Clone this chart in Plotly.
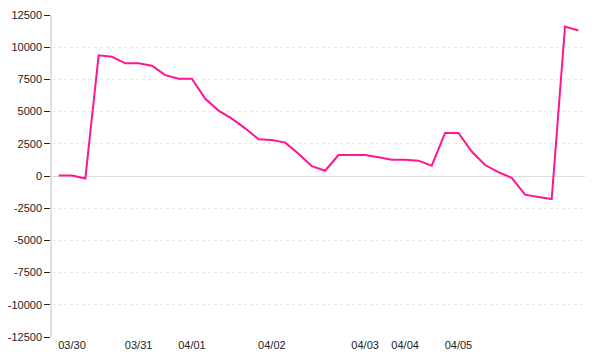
import plotly.graph_objects as go

# ---- data ----
day_of_point = (["03/29"] + ["03/30"] * 5 + ["03/31"] * 4 + ["04/01"] * 6 +
                ["04/02"] * 7 + ["04/03"] * 3 + ["04/04"] * 4 + ["04/05"] * 10)
values = [30, 30, -200, 9370, 9260, 8750, 8750, 8560, 7830, 7560,
          7560, 6000, 5080, 4450, 3700, 2850, 2800, 2590, 1720, 760,
          410, 1630, 1630, 1630, 1450, 1270, 1270, 1190, 800, 3340,
          3340, 1900, 850, 300, -150, -1450, -1630, -1790, 11600, 11300]
shown_days = ["03/30", "03/31", "04/01", "04/02", "04/03", "04/04", "04/05"]
y_ticks = [-12500, -10000, -7500, -5000, -2500, 0, 2500, 5000, 7500, 10000, 12500]

# unique category per point
categories = []
counts = {}
for d in day_of_point:
    counts[d] = counts.get(d, 0) + 1
    categories.append(f"{d} #{counts[d]}")

tick_vals = [f"{d} #1" for d in shown_days]

font = dict(family="Liberation Sans, Arial, sans-serif", size=11, color="#222222")

fig = go.Figure()
fig.add_trace(go.Scatter(
    x=categories, y=values, mode="lines",
    line=dict(color="#ff1493", width=2),
    hoverinfo="skip", showlegend=False,
))

fig.update_layout(
    width=600, height=360,
    margin=dict(l=52, r=15, t=15, b=23),
    paper_bgcolor="white", plot_bgcolor="white",
    font=font,
    xaxis=dict(
        type="category",
        categoryorder="array", categoryarray=categories,
        range=[-0.5, len(categories) - 0.5],
        tickmode="array", tickvals=tick_vals, ticktext=shown_days,
        showgrid=False, showline=False, zeroline=False,
        ticks="", tickfont=font, automargin=False,
    ),
    yaxis=dict(
        range=[-12500, 12500],
        tickmode="array", tickvals=y_ticks,
        ticktext=[str(v) for v in y_ticks],
        showgrid=True, gridcolor="#e8e8e8", griddash="3px,3px", gridwidth=1,
        zeroline=True, zerolinecolor="#dddddd", zerolinewidth=1,
        showline=True, linecolor="#dddddd", linewidth=1.5,
        ticks="outside", ticklen=6, tickcolor="#222222", tickwidth=1,
        tickfont=font, automargin=False,
    ),
)

fig.write_html("out.html")
